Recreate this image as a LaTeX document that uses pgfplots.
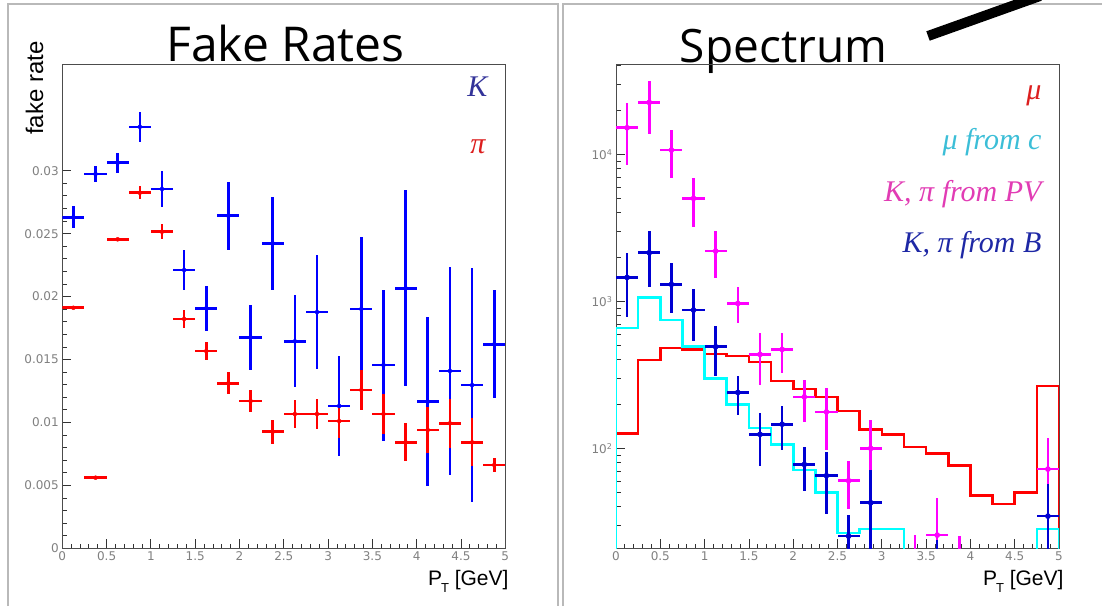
\documentclass[border=0pt]{standalone}
\usepackage{fontspec}
\setmainfont{Liberation Sans}
\newfontfamily\legfont{Liberation Serif}
\newfontfamily\titlefont{Open Sans}
\newfontfamily\tickfont{DejaVu Sans}
\usepackage{pgfplots}
\usepackage{pgfplotstable}
\pgfplotsset{compat=1.18}

\definecolor{kblue}{RGB}{0,0,255}
\definecolor{pired}{RGB}{255,0,0}
\definecolor{bdark}{RGB}{0,0,210}
\definecolor{pvmag}{RGB}{255,0,255}
\definecolor{ccyan}{RGB}{0,255,255}
\definecolor{labK}{RGB}{51,51,153}
\definecolor{labpi}{RGB}{220,30,30}
\definecolor{labc}{RGB}{60,190,215}
\definecolor{labpv}{RGB}{225,60,180}
\definecolor{labB}{RGB}{30,40,165}

% fake rates, kaons
\pgfplotstableread{
x     y       e
0.125 0.02630 0.00086
0.375 0.02974 0.00064
0.625 0.03063 0.00080
0.875 0.03349 0.00117
1.125 0.02855 0.00146
1.375 0.02211 0.00160
1.625 0.01907 0.00180
1.875 0.02642 0.00270
2.125 0.01676 0.00256
2.375 0.02423 0.00370
2.625 0.01645 0.00364
2.875 0.01877 0.00450
3.125 0.01131 0.00400
3.375 0.01901 0.00570
3.625 0.01456 0.00600
3.875 0.02066 0.00780
4.125 0.01165 0.00670
4.375 0.01409 0.00830
4.625 0.01297 0.00930
4.875 0.01621 0.00430
}\fakeK

% fake rates, pions
\pgfplotstableread{
x     y       e
0.125 0.01911 0.00010
0.375 0.00561 0.00000
0.625 0.02455 0.00010
0.875 0.02825 0.00050
1.125 0.02515 0.00060
1.375 0.01822 0.00070
1.625 0.01567 0.00073
1.875 0.01311 0.00086
2.125 0.01170 0.00090
2.375 0.00926 0.00097
2.625 0.01067 0.00113
2.875 0.01067 0.00120
3.125 0.01011 0.00135
3.375 0.01258 0.00160
3.625 0.01067 0.00160
3.875 0.00842 0.00150
4.125 0.00940 0.00180
4.375 0.00993 0.00195
4.625 0.00842 0.00190
4.875 0.00662 0.00053
}\fakePi

% spectrum, K/pi from PV
\pgfplotstableread{
x     y      ep    em
0.125 15170  7060  6710
0.375 22590  8940  8850
0.625 10700  3930  3830
0.875 5020   1850  1800
1.125 2197   809   748
1.375 968    288   260
1.625 436    169   166
1.875 471    140   144
2.125 224    68    72
2.375 177    79    80
2.625 60.3   22.1  21.8
2.875 100    56    56
3.375 10     15.7  9
3.625 25.7   20    24
3.875 8      17.5  7
4.875 72.3   44.7  44
}\specPV

% spectrum, K/pi from B
\pgfplotstableread{
x     y      ep    em
0.125 1456   687   671
0.375 2143   877   887
0.625 1306   526   478
0.875 873    335   334
1.125 491    188   181
1.375 240    70    71
1.625 124.6  48.4  48.8
1.875 146    48    49
2.125 77.8   23.8  26.7
2.375 65.2   29.6  29.5
2.625 25.3   9.9   20
2.875 42.7   28.3  40
3.625 12     11.8  10
4.875 34.6   22.3  30
}\specB

\pgfplotsset{
  rootax/.style={
    scale only axis, width=443pt, height=484.3pt,
    xmin=0, xmax=5,
    xtick={0,0.5,1,1.5,2,2.5,3,3.5,4,4.5,5},
    xticklabels={0,0.5,1,1.5,2,2.5,3,3.5,4,4.5,5},
    minor x tick num=4,
    tick pos=left, tick align=inside,
    major tick length=9pt, minor tick length=4.5pt,
    tick style={black!80, line width=0.8pt},
    axis line style={black!70, line width=0.8pt},
    tick label style={font=\tickfont\fontsize{12}{12}\selectfont, text=black!50},
    clip=true,
  },
  errcross/.style={#1, only marks, mark=none,
    error bars/.cd, x dir=both, x fixed=0.125, y dir=both, y explicit,
    error mark=none, error bar style={line width=2.6pt, #1}},
}

\begin{document}
\begin{tikzpicture}[x=1pt, y=1pt]
\path[use as bounding box] (0,0) rectangle (1102,606);

% panel frames
\draw[gray!55, line width=1.2pt] (8,0) -- (8,602) -- (558,602) -- (558,0);
\draw[gray!55, line width=1.2pt] (563,0) -- (563,602) -- (1102,602);

% titles
\node[font=\titlefont\fontsize{48}{48}\selectfont, anchor=base] at (285.5,544) {Fake Rates};
\node[font=\titlefont\fontsize{46}{46}\selectfont, anchor=base] at (783.5,543) {Spectrum};
\begin{scope}
\clip (0,0) rectangle (1102,606);
\draw[line width=10pt] (928,570) -- (1040,610);
\end{scope}

% left: fake rates
\begin{axis}[rootax, at={(62.3pt,57.7pt)}, anchor=south west,
  ymin=0, ymax=0.03848,
  ytick={0,0.005,0.01,0.015,0.02,0.025,0.03},
  yticklabels={0,0.005,0.01,0.015,0.02,0.025,0.03},
  scaled y ticks=false,
  minor y tick num=4]
  \addplot[errcross=kblue] table[x=x, y=y, y error=e] {\fakeK};
  \addplot[errcross=pired] table[x=x, y=y, y error=e] {\fakePi};
\end{axis}
\node[rotate=90, anchor=base east, font=\fontsize{24}{24}\selectfont] at (43,568) {fake rate};
\node[anchor=base east, font=\fontsize{21}{21}\selectfont] at (512,21)
  {P\hspace{-1pt}\raisebox{-7pt}{\fontsize{13}{13}\selectfont T} [GeV]};
\node[anchor=base east, font=\legfont\itshape\fontsize{30}{30}\selectfont, text=labK] at (491,509) {K};
\node[anchor=base east, font=\legfont\itshape\fontsize{30}{30}\selectfont, text=labpi] at (489,452) {π};

% right: spectrum
\begin{axis}[rootax, at={(616pt,57.7pt)}, anchor=south west,
  ymode=log, ymin=20.9, ymax=41200,
  ytick={100,1000,10000},
  yticklabels={10\textsuperscript{2},10\textsuperscript{3},10\textsuperscript{4}},
  minor ytick={30,40,50,60,70,80,90,200,300,400,500,600,700,800,900,
    2000,3000,4000,5000,6000,7000,8000,9000,20000,30000,40000}]
  \addplot[const plot, pired, line width=2.6pt] coordinates {
    (0,1) (0,126) (0.25,399) (0.5,483) (0.75,471) (1,438) (1.25,426)
    (1.5,388) (1.75,287) (2,253) (2.25,224) (2.5,180) (2.75,135)
    (3,124) (3.25,102) (3.5,92.5) (3.75,76.2) (4,47.6) (4.25,41.8)
    (4.5,49.9) (4.75,265) (5,265) (5,1)};
  \addplot[const plot, ccyan, line width=2.6pt] coordinates {
    (0,1) (0,661) (0.25,1064) (0.5,746) (0.75,491) (1,299) (1.25,199)
    (1.5,138) (1.75,106) (2,71.1) (2.25,49.9) (2.5,26.5) (2.75,28.2)
    (3,28.2) (3.25,1) (4.75,1) (4.75,28.2) (5,28.2) (5,1)};
  \addplot[pvmag, only marks, mark=*, mark size=2.6pt,
    error bars/.cd, x dir=both, x fixed=0.125, y dir=both, y explicit,
    error mark=none, error bar style={line width=2.6pt, pvmag}]
    table[x=x, y=y, y error plus=ep, y error minus=em] {\specPV};
  \addplot[bdark, only marks, mark=*, mark size=2.6pt,
    error bars/.cd, x dir=both, x fixed=0.125, y dir=both, y explicit,
    error mark=none, error bar style={line width=2.6pt, bdark}]
    table[x=x, y=y, y error plus=ep, y error minus=em] {\specB};
\end{axis}
\node[anchor=base east, font=\fontsize{21}{21}\selectfont] at (1067,21)
  {P\hspace{-1pt}\raisebox{-7pt}{\fontsize{13}{13}\selectfont T} [GeV]};
\begin{scope}[every node/.style={anchor=base east, font=\legfont\itshape\fontsize{30}{30}\selectfont}]
\node[text=labpi] at (1045,506) {μ};
\node[text=labc] at (1045,456) {μ from c};
\node[text=labpv] at (1045,404) {K, π from PV};
\node[text=labB] at (1045,353) {K, π from B};
\end{scope}
\end{tikzpicture}
\end{document}
